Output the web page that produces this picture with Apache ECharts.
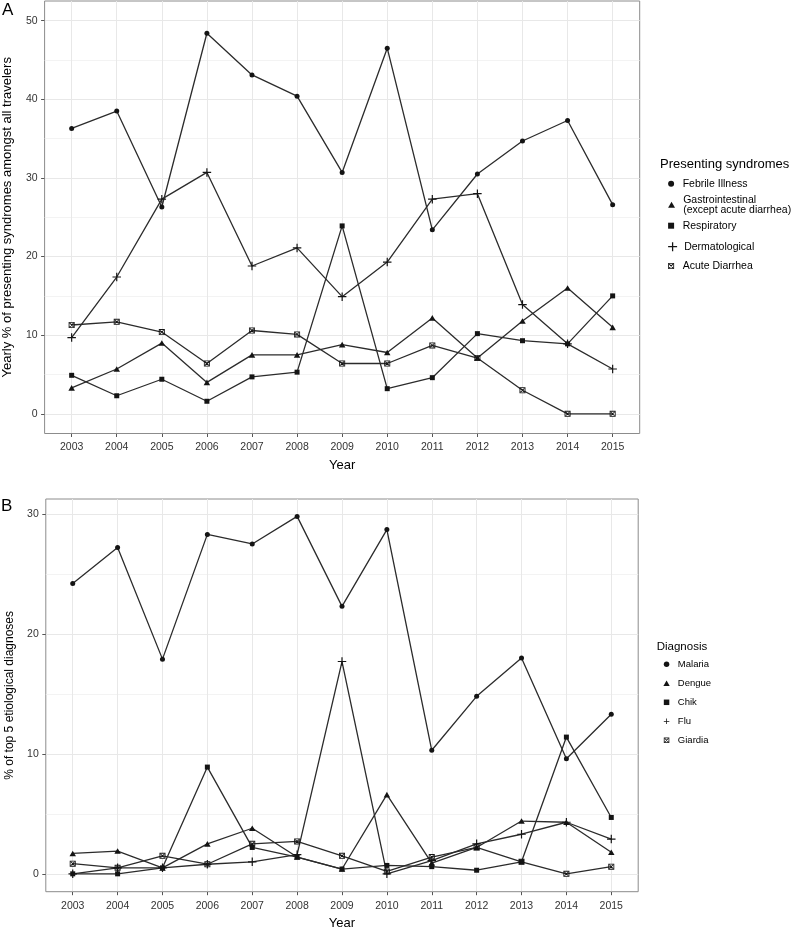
<!DOCTYPE html>
<html>
<head>
<meta charset="utf-8">
<script src="https://cdn.jsdelivr.net/npm/echarts@6/dist/echarts.min.js"></script>
<style>
html,body{margin:0;padding:0;background:#fff;}
#chart{width:794px;height:928px;}
</style>
</head>
<body>
<div id="chart"></div>
<script>
// ---------- data ----------
const years = [2003, 2004, 2005, 2006, 2007, 2008, 2009, 2010, 2011, 2012, 2013, 2014, 2015];

// Panel A: presenting syndromes (%)
const syndromeNames = ['Febrile Illness', 'Gastrointestinal\n(except acute diarrhea)', 'Respiratory', 'Dermatological', 'Acute Diarrhea'];
const febrile        = [36.3, 38.5, 26.3, 48.4, 43.1, 40.4, 30.7, 46.5, 23.4, 30.5, 34.7, 37.3, 26.6];
const gastro         = [3.3, 5.7, 9.0, 4.0, 7.5, 7.5, 8.8, 7.8, 12.2, 7.1, 11.8, 16.0, 11.0];
const respiratory    = [4.9, 2.3, 4.4, 1.6, 4.7, 5.3, 23.9, 3.2, 4.6, 10.2, 9.3, 8.9, 15.0];
const dermatological = [9.7, 17.4, 27.3, 30.7, 18.8, 21.1, 14.9, 19.3, 27.3, 28.0, 13.9, 8.9, 5.7];
const diarrhea       = [11.3, 11.7, 10.4, 6.4, 10.6, 10.1, 6.4, 6.4, 8.7, 7.1, 3.0, 0, 0];
const yTicksA = [0, 10, 20, 30, 40, 50];
const yMinorA = [5, 15, 25, 35, 45];

// Panel B: top 5 etiological diagnoses (%)
const diagnosisNames = ['Malaria', 'Dengue', 'Chik', 'Flu', 'Giardia'];
const malaria = [24.2, 27.2, 17.9, 28.3, 27.5, 29.8, 22.3, 28.7, 10.3, 14.8, 18.0, 9.6, 13.3];
const dengue  = [1.7, 1.9, 0.5, 2.5, 3.8, 1.4, 0.4, 6.6, 0.9, 2.2, 4.4, 4.3, 1.8];
const chik    = [0, 0, 0.5, 8.9, 2.2, 1.4, 0.4, 0.7, 0.6, 0.3, 1.0, 11.4, 4.7];
const flu     = [0, 0.5, 0.5, 0.8, 1.0, 1.6, 17.7, 0, 1.1, 2.5, 3.3, 4.3, 2.9];
const giardia = [0.85, 0.5, 1.5, 0.8, 2.5, 2.7, 1.5, 0.2, 1.4, 2.2, 1.0, 0, 0.6];
const yTicksB = [0, 10, 20, 30];
const yMinorB = [5, 15, 25];

// ---------- styles ----------
const FONT = '"Liberation Sans", Arial, Helvetica, sans-serif';
const PLUS = 'path://M8.6,0H11.4V8.6H20V11.4H11.4V20H8.6V11.4H0V8.6H8.6Z';
const BOXX = 'path://M0,0H10V10H0Z M1.4,1.4V8.6H8.6V1.4Z M1.4,2.4L2.4,1.4L8.6,7.6L7.6,8.6Z M7.6,1.4L8.6,2.4L2.4,8.6L1.4,7.6Z';
const RECT = 'path://M0,0H10V10H0Z';
const TRI = 'path://M5,0L10,8.7H0Z';
const symbols = ['circle', 'triangle', 'rect', PLUS, BOXX];
const legendIcons = ['circle', TRI, RECT, PLUS, BOXX];
const symSizes = [5, [6.5, 5.6], 5, 8.5, 6];
const LINE = '#2b2b2b';
const MARK = '#141414';

const panels = [
  {left: 44.6, top: 1, right: 794 - 639.7, bottom: 928 - 433.5, ymin: -2.5, ymax: 52.5, ticks: yTicksA, minor: yMinorA,
   yname: 'Yearly % of presenting syndromes amongst all travelers', ynameSize: 13},
  {left: 45.8, top: 499, right: 794 - 638.2, bottom: 928 - 891.7, ymin: -1.49, ymax: 31.25, ticks: yTicksB, minor: yMinorB,
   yname: '% of top 5 etiological diagnoses', ynameSize: 12}
];

const grid = [], xAxis = [], yAxis = [];
panels.forEach((p, i) => {
  grid.push({left: p.left, top: p.top, right: p.right, bottom: p.bottom, show: true,
             borderColor: '#8c8c8c', borderWidth: 1, backgroundColor: '#fff',
             containLabel: false, outerBoundsMode: 'none'});
  xAxis.push({
    type: 'value', gridIndex: i, min: 2002.4, max: 2015.6,
    axisLine: {show: false, onZero: false},
    axisTick: {show: true, customValues: years, length: 3.5, lineStyle: {color: '#555'}},
    axisLabel: {customValues: years, formatter: v => String(v), fontSize: 10.5, color: '#333', margin: 8.5, fontFamily: FONT},
    splitLine: {show: true, lineStyle: {color: '#e8e8e8', width: 1}},
    name: 'Year', nameLocation: 'middle', nameGap: 25.5,
    nameTextStyle: {fontSize: 13, color: '#000', fontFamily: FONT}
  });
  yAxis.push({
    type: 'value', gridIndex: i, min: p.ymin, max: p.ymax,
    axisLine: {show: false, onZero: false},
    axisTick: {show: true, customValues: p.ticks, length: 3.5, lineStyle: {color: '#555'}},
    axisLabel: {customValues: p.ticks, formatter: v => String(v), fontSize: 10.5, color: '#333', margin: 7, fontFamily: FONT},
    splitLine: {show: true, lineStyle: {color: '#e8e8e8', width: 1}},
    name: p.yname, nameLocation: 'middle', nameGap: 30.5,
    nameTextStyle: {fontSize: p.ynameSize, color: '#000', fontFamily: FONT}
  });
  yAxis.push({
    type: 'value', gridIndex: i, min: p.ymin, max: p.ymax, position: 'left',
    axisLine: {show: false, onZero: false},
    axisTick: {show: false, customValues: p.minor},
    axisLabel: {show: false, customValues: p.minor},
    splitLine: {show: true, lineStyle: {color: '#f0f0f0', width: 0.8}}
  });
});

function makeSeries(name, vals, k, gridIdx) {
  return {
    name: name, type: 'line',
    xAxisIndex: gridIdx, yAxisIndex: gridIdx * 2,
    data: years.map((y, j) => [y, vals[j]]),
    symbol: symbols[k], symbolSize: symSizes[k], showSymbol: true, clip: false,
    lineStyle: {color: LINE, width: 1.3},
    itemStyle: {color: MARK},
    emphasis: {disabled: true},
    animation: false
  };
}
const seriesA = [febrile, gastro, respiratory, dermatological, diarrhea].map((v, k) => makeSeries(syndromeNames[k], v, k, 0));
const seriesB = [malaria, dengue, chik, flu, giardia].map((v, k) => makeSeries(diagnosisNames[k], v, k, 1));

// legends
const legendA_centers = [183.7, 204.3, 225.7, 246.7, 266];
const legends = syndromeNames.map((n, k) => {
  const multi = n.indexOf('\n') >= 0;
  const ih = k === 3 ? 9 : 6;
  const th = multi ? 20 : 12;
  return {
    orient: 'vertical', left: 668.1, top: legendA_centers[k] - Math.max(th, ih) / 2, padding: 0,
    itemWidth: 13.2, itemHeight: ih, itemGap: 0, selectedMode: false, symbolKeepAspect: true,
    data: [{name: n, icon: legendIcons[k]}],
    textStyle: {fontSize: 10.5, lineHeight: multi ? 10 : 12, color: '#000', fontFamily: FONT}
  };
});
legends.push({
  orient: 'vertical', left: 663.4, top: 658.3, padding: 0,
  itemWidth: 12.6, itemHeight: 5.5, itemGap: 7, selectedMode: false, symbolKeepAspect: true,
  data: diagnosisNames.map((n, k) => ({name: n, icon: legendIcons[k]})),
  textStyle: {fontSize: 9.5, lineHeight: 12, color: '#000', fontFamily: FONT}
});

const titles = [
  {text: 'A', left: 2, top: 1, padding: 0, textStyle: {fontSize: 17, lineHeight: 18, fontWeight: 'normal', color: '#000', fontFamily: FONT}},
  {text: 'B', left: 1, top: 497, padding: 0, textStyle: {fontSize: 17, lineHeight: 18, fontWeight: 'normal', color: '#000', fontFamily: FONT}},
  {text: 'Presenting syndromes', left: 660, top: 157, padding: 0, textStyle: {fontSize: 13, lineHeight: 14, fontWeight: 'normal', color: '#000', fontFamily: FONT}},
  {text: 'Diagnosis', left: 656.7, top: 639.7, padding: 0, textStyle: {fontSize: 11.5, lineHeight: 14, fontWeight: 'normal', color: '#000', fontFamily: FONT}}
];

const chart = echarts.init(document.getElementById('chart'), null, {renderer: 'canvas'});
chart.setOption({
  animation: false,
  backgroundColor: '#fff',
  textStyle: {fontFamily: FONT},
  title: titles,
  legend: legends,
  grid: grid,
  xAxis: xAxis,
  yAxis: yAxis,
  series: seriesA.concat(seriesB)
});
</script>
</body>
</html>
